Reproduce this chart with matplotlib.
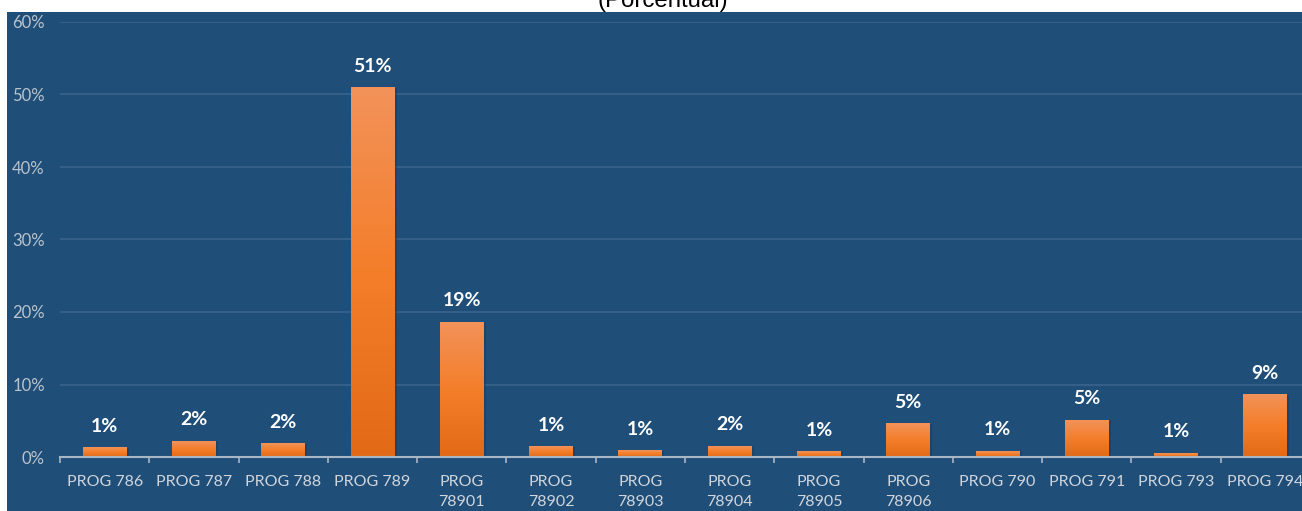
import numpy as np
import matplotlib.pyplot as plt
from matplotlib.colors import LinearSegmentedColormap
from matplotlib.patches import Rectangle

programs = ['PROG 786', 'PROG 787', 'PROG 788', 'PROG 789', 'PROG\n78901',
            'PROG\n78902', 'PROG\n78903', 'PROG\n78904', 'PROG\n78905',
            'PROG\n78906', 'PROG 790', 'PROG 791', 'PROG 793', 'PROG 794']
share = [1.3, 2.2, 1.85, 50.9, 18.6, 1.43, 0.88, 1.5, 0.74, 4.6, 0.78, 5.06, 0.51, 8.6]
title = '(Porcentual)'

BG = '#1F4E79'
fig = plt.figure(figsize=(13.02, 5.11), dpi=100)
fig.patch.set_facecolor('white')
# blue chart area (image is cropped on the top and right)
fig.patches.append(Rectangle((7 / 1302, 0), 1, (511 - 12) / 511,
                             transform=fig.transFigure, facecolor=BG,
                             edgecolor='none', zorder=-10))
fig.text(663 / 1302, (511 - 7) / 511, title, ha='center', va='baseline',
         fontsize=17.3, family='Liberation Sans', color='black')

ax = fig.add_axes([60 / 1302, (511 - 457) / 511, 1250 / 1302, 435 / 511])
ax.set_facecolor('none')

grad = LinearSegmentedColormap.from_list('orng', ['#E26A17', '#F47E2A', '#F2925A'])
gimg = np.linspace(0, 1, 256).reshape(-1, 1)
w = 0.49
for i, v in enumerate(share):
    # soft shadow on the right
    ax.add_patch(Rectangle((i - w / 2 + 0.025, 0), w, v, facecolor='#17375A',
                           alpha=0.45, edgecolor='none', zorder=1.5))
    ax.imshow(gimg, cmap=grad, origin='lower', aspect='auto',
              extent=(i - w / 2, i + w / 2, 0, v), zorder=2)
    ax.annotate(f'{v:.0f}%', (i, v), xytext=(0, 15.5), textcoords='offset points',
                ha='center', va='center', color='white', fontsize=14,
                fontweight='bold', family='Lato', zorder=3)
ax.set_xlim(-0.5, len(programs) - 0.5)
ax.set_ylim(0, 60)

ax.set_yticks(range(0, 61, 10))
ax.set_yticklabels([f'{t}%' for t in range(0, 61, 10)])
ax.yaxis.grid(True, color='#3A6389', linewidth=1.2)
ax.set_axisbelow(True)
ax.tick_params(axis='y', length=0, pad=11, labelsize=12, labelcolor='#BCC3CB')

ax.set_xticks(range(len(programs)))
ax.set_xticklabels(programs, linespacing=1.5)
ax.set_xticks(np.arange(-0.5, len(programs), 1), minor=True)
ax.tick_params(axis='x', which='major', length=0, pad=13, labelsize=11.5,
               labelcolor='#D0D5DB')
ax.tick_params(axis='x', which='minor', length=4.5, width=1.2, color='#A9B6C4')
for lbl in ax.get_xticklabels() + ax.get_yticklabels():
    lbl.set_family('Lato')

for s in ['top', 'right', 'left']:
    ax.spines[s].set_visible(False)
ax.spines['bottom'].set_color('#A9B6C4')
ax.spines['bottom'].set_linewidth(1.5)
ax.spines['bottom'].set_zorder(4)

fig.savefig('out.png', dpi=100)
